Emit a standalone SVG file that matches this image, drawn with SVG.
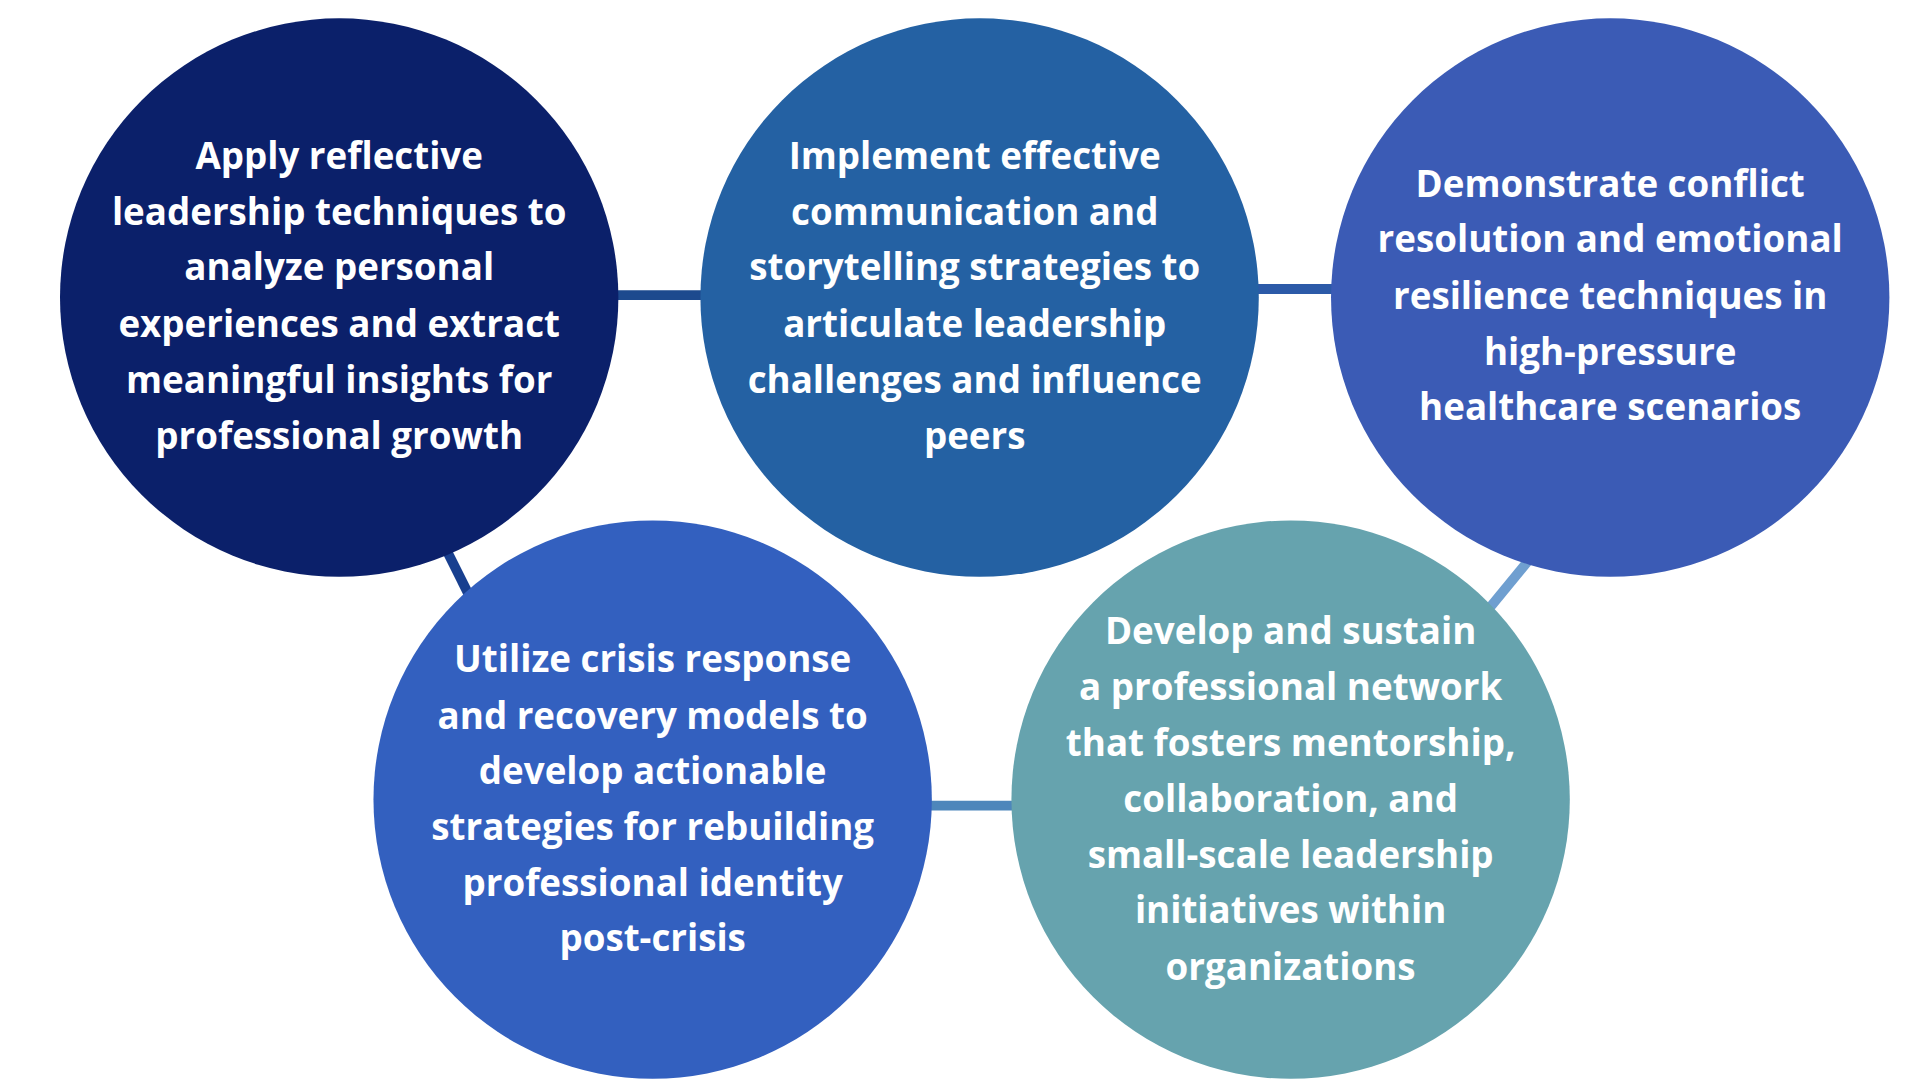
<svg xmlns="http://www.w3.org/2000/svg" width="1920" height="1080" viewBox="0 0 1920 1080">
<style>
text{font-family:"Open Sans","DejaVu Sans",sans-serif;font-weight:700;font-size:30px;fill:#fff;text-anchor:middle}
.c{stroke-width:8;fill:none}
</style>
<rect width="1920" height="1080" fill="#fff"/>
<g transform="scale(1.2245)">
<g id="connectors">
<line class="c" x1="500" y1="241" x2="578" y2="241" stroke="#1d4a8e"/>
<line class="c" x1="1022" y1="236" x2="1092" y2="236" stroke="#2c5aa8"/>
<line class="c" x1="365" y1="450" x2="386" y2="492" stroke="#183f8f"/>
<line class="c" x1="1248" y1="458" x2="1216" y2="497" stroke="#6f9fd0"/>
<line class="c" x1="756" y1="658" x2="832" y2="658" stroke="#4d86bb"/>
</g>
<g id="n1"><circle cx="277" cy="243" r="228" fill="#0b206a"/>
<text x="277" y="138">Apply reflective</text><text x="277" y="184">leadership techniques to</text><text x="277" y="229">analyze personal</text><text x="277" y="275">experiences and extract</text><text x="277" y="321">meaningful insights for</text><text x="277" y="367">professional growth</text></g>
<g id="n2"><circle cx="800" cy="243" r="228" fill="#2461a3"/>
<text x="796" y="138">Implement effective</text><text x="796" y="184">communication and</text><text x="796" y="229">storytelling strategies to</text><text x="796" y="275">articulate leadership</text><text x="796" y="321">challenges and influence</text><text x="796" y="367">peers</text></g>
<g id="n3"><circle cx="1315" cy="243" r="228" fill="#3b5bb5"/>
<text x="1315" y="161">Demonstrate conflict</text><text x="1315" y="206">resolution and emotional</text><text x="1315" y="252">resilience techniques in</text><text x="1315" y="298">high-pressure</text><text x="1315" y="343">healthcare scenarios</text></g>
<g id="n4"><circle cx="533" cy="653" r="228" fill="#3360bf"/>
<text x="533" y="549">Utilize crisis response</text><text x="533" y="595">and recovery models to</text><text x="533" y="640">develop actionable</text><text x="533" y="686">strategies for rebuilding</text><text x="533" y="732">professional identity</text><text x="533" y="777">post-crisis</text></g>
<g id="n5"><circle cx="1054" cy="653" r="228" fill="#66a3ae"/>
<text x="1054" y="526">Develop and sustain</text><text x="1054" y="572">a professional network</text><text x="1054" y="617">that fosters mentorship,</text><text x="1054" y="663">collaboration, and</text><text x="1054" y="709">small-scale leadership</text><text x="1054" y="754">initiatives within</text><text x="1054" y="800">organizations</text></g>
</g>
</svg>
